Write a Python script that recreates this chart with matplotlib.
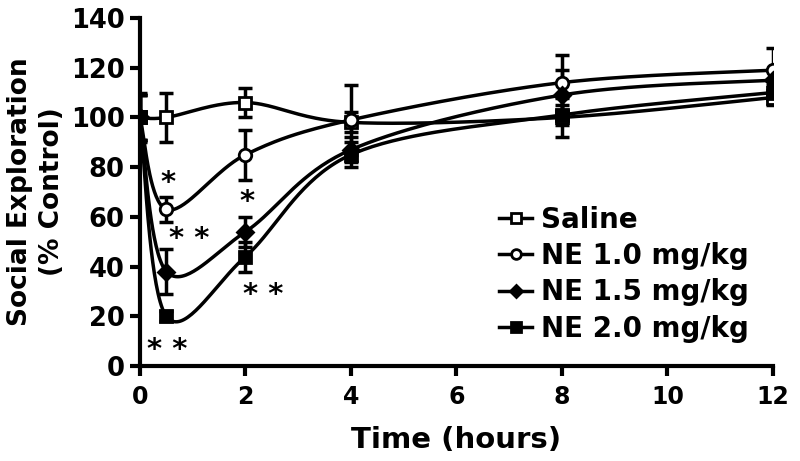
import numpy as np
import matplotlib
matplotlib.use('Agg')
import matplotlib.pyplot as plt
from matplotlib.lines import Line2D

# Data
hours = [0, 0.5, 2, 4, 8, 12]
saline = [100, 100, 106, 98, 100, 108]
saline_err = [10, 10, 6, 4, 8, 3]
ne10 = [100, 63, 85, 99, 114, 119]
ne10_err = [9, 5, 10, 14, 11, 9]
ne15 = [100, 38, 54, 87, 109, 115]
ne15_err = [9, 9, 6, 5, 10, 4]
ne20 = [100, 20, 44, 85, 101, 110]
ne20_err = [9, 2, 6, 5, 4, 3]

series = [
    ('Saline', saline, saline_err, 's', 'white'),
    ('NE 1.0 mg/kg', ne10, ne10_err, 'o', 'white'),
    ('NE 1.5 mg/kg', ne15, ne15_err, 'D', 'black'),
    ('NE 2.0 mg/kg', ne20, ne20_err, 's', 'black'),
]


def smooth(x, y, sx, sy, n=40):
    # Excel-like smoothed line: Catmull-Rom as Bezier, computed in screen scale
    P = np.column_stack([np.asarray(x, float) * sx, np.asarray(y, float) * sy])
    pts = []
    for i in range(len(P) - 1):
        p0 = P[i - 1] if i > 0 else P[i]
        p1, p2 = P[i], P[i + 1]
        p3 = P[i + 2] if i + 2 < len(P) else P[i + 1]
        c1 = p1 + (p2 - p0) / 6
        c2 = p2 - (p3 - p1) / 6
        t = np.linspace(0, 1, n)[:, None]
        seg = (1 - t) ** 3 * p1 + 3 * (1 - t) ** 2 * t * c1 + 3 * (1 - t) * t ** 2 * c2 + t ** 3 * p2
        pts.append(seg)
    pts = np.vstack(pts)
    return pts[:, 0] / sx, pts[:, 1] / sy


fig = plt.figure(figsize=(8, 4.61), dpi=100)
ax = fig.add_axes([0.175, 0.206, 0.791, 0.755])

sx, sy = 52.75, 2.486
handles = []
for name, vals, err, mk, fc in series:
    xs, ys = smooth(hours, vals, sx, sy)
    ax.plot(xs, ys, color='black', lw=2.5, zorder=2)
    ax.errorbar(hours, vals, yerr=err, fmt='none', ecolor='black',
                elinewidth=2.5, capsize=5, capthick=2.5, zorder=3)
    ms = 8 if mk == 'D' else 9
    ax.plot(hours, vals, linestyle='none', marker=mk, ms=ms, mfc=fc,
            mec='black', mew=2, zorder=4)
    handles.append(Line2D([], [], color='black', lw=2.5, marker=mk, ms=ms - 2,
                          mfc=fc, mec='black', mew=2, label=name))

# significance marks
for tx, ty, s in [(0.53, 73.5, '*'), (0.93, 51, '* *'), (0.52, 6.5, '* *'),
                  (2.03, 66, '*'), (2.33, 28.5, '* *')]:
    ax.text(tx, ty, s, ha='center', va='center', fontsize=21, fontweight='bold')

ax.set_xlim(0, 12)
ax.set_ylim(0, 140)
ax.set_xticks(range(0, 13, 2))
ax.set_yticks(range(0, 141, 20))
for sp in ['top', 'right']:
    ax.spines[sp].set_visible(False)
for sp in ['left', 'bottom']:
    ax.spines[sp].set_linewidth(3)
ax.tick_params(direction='out', width=3, length=7)
ax.tick_params(axis='x', labelsize=17, pad=7)
ax.tick_params(axis='y', labelsize=18.5, pad=4)
for lab in ax.get_xticklabels() + ax.get_yticklabels():
    lab.set_fontweight('bold')

ax.set_xlabel('Time (hours)', fontsize=21, fontweight='bold', labelpad=12)
ax.set_ylabel('Social Exploration\n(% Control)', fontsize=19, fontweight='bold',
              labelpad=4, linespacing=1.3)

ax.legend(handles=handles, loc='lower left', bbox_to_anchor=(0.55, 0.035),
          frameon=False, handlelength=1.2, handletextpad=0.3, labelspacing=0.3,
          prop={'weight': 'bold', 'size': 20}, borderaxespad=0)

fig.savefig('out.png', dpi=100)
